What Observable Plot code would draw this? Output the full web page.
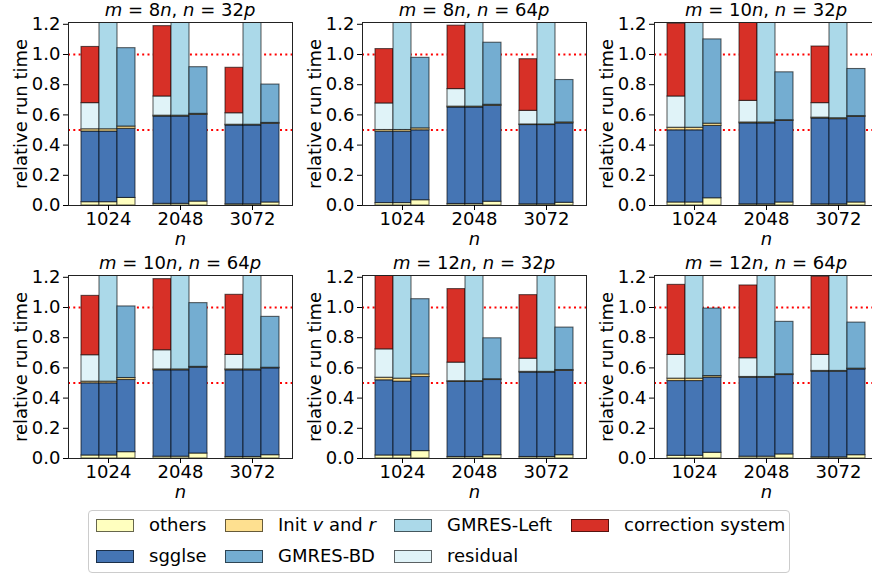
<!DOCTYPE html>
<html><head><meta charset="utf-8">
<script src="https://cdn.jsdelivr.net/npm/d3@7"></script>
<script src="https://cdn.jsdelivr.net/npm/@observablehq/plot@0.6"></script>
<style>
html,body{margin:0;padding:0;background:#fff;overflow:hidden;}
body{width:872px;height:578px;position:relative;font-family:"DejaVu Sans",sans-serif;color:#000;}
.panel{position:absolute;}
.title{position:absolute;font-size:18px;line-height:14px;white-space:nowrap;transform:translateX(-50%);}
.legend{position:absolute;left:88px;top:510px;width:702px;height:63px;border:1px solid #cccccc;border-radius:4px;box-sizing:border-box;}
.item{position:absolute;font-size:18px;line-height:18px;white-space:nowrap;}
.sw{position:absolute;width:38px;height:13px;border:1px solid rgba(0,0,0,0.6);box-sizing:border-box;}
</style>
</head><body>
<script>
// ---- data ----
const sizes = [1024, 2048, 3072];
const mFactors = ["8", "8", "10", "10", "12", "12"];
const pFactors = ["32", "64", "32", "64", "32", "64"];
const seriesNames = ["others", "sgglse", "Init v and r", "GMRES-BD", "GMRES-Left", "residual", "correction system"];
const seriesLabels = ["others", "sgglse", "Init <i>v</i> and <i>r</i>", "GMRES-BD", "GMRES-Left", "residual", "correction system"];
const seriesColors = ["#ffffbf", "#4575b4", "#fee090", "#74add1", "#abd9e9", "#e0f3f8", "#d73027"];
const yTicks = [0, 0.2, 0.4, 0.6, 0.8, 1.0, 1.2];
const refLines = [0.5, 1.0];

// left bar (correction approach), per panel [1024, 2048, 3072]
const othersL = [[.022,.011,.008],[.016,.010,.008],[.020,.008,.008],[.020,.012,.010],[.020,.010,.010],[.018,.012,.008]];
const sgglseL = [[.468,.578,.522],[.473,.639,.525],[.478,.536,.568],[.478,.572,.574],[.498,.497,.559],[.495,.523,.567]];
const initL = [[.015,.006,.005],[.011,.006,.004],[.017,.006,.006],[.011,.006,.006],[.017,.005,.005],[.016,.005,.005]];
const residual = [[.173,.127,.076],[.176,.116,.090],[.207,.143,.096],[.175,.127,.096],[.188,.123,.087],[.157,.124,.106]];
const correction = [[.372,.466,.301],[.360,.420,.342],[.482,.557,.375],[.393,.471,.398],[.517,.487,.421],[.464,.482,.518]];
// middle bar (GMRES-Left)
const othersM = [[.022,.011,.008],[.016,.010,.008],[.020,.008,.008],[.020,.012,.010],[.020,.010,.010],[.018,.012,.008]];
const sgglseM = [[.468,.578,.522],[.473,.639,.525],[.478,.536,.564],[.478,.572,.574],[.489,.497,.559],[.495,.523,.567]];
const initM = [[.015,.006,.005],[.011,.006,.004],[.017,.006,.006],[.011,.006,.006],[.020,.005,.005],[.016,.005,.005]];
const gmresLeft = [[1.10,1.00,1.05],[1.05,0.95,1.10],[1.10,1.00,1.00],[1.05,0.95,1.00],[1.10,1.05,1.00],[1.05,1.00,0.95]];
// right bar (GMRES-BD)
const othersR = [[.050,.026,.020],[.035,.025,.018],[.048,.020,.020],[.042,.033,.022],[.049,.022,.022],[.038,.027,.022]];
const sgglseR = [[.458,.574,.521],[.463,.635,.526],[.479,.540,.567],[.478,.569,.575],[.491,.498,.558],[.498,.526,.568]];
const initR = [[.015,.007,.006],[.013,.007,.006],[.015,.005,.005],[.013,.005,.004],[.017,.005,.006],[.010,.005,.005]];
const gmresBD = [[.519,.309,.254],[.467,.411,.281],[.558,.317,.312],[.474,.422,.337],[.498,.271,.281],[.447,.347,.305]];

// ---- layout ----
const panelLeft = [0, 294, 586];
const panelTop = [16, 269];
const titleTop = [2.5, 255.5];

const xDomain = [];
sizes.forEach((s, i) => {
  if (i > 0) xDomain.push("gap" + i);
  xDomain.push(s + "|L", s + "|M", s + "|R");
});
const xTicks = sizes.map(s => s + "|M");

function rowsFor(p) {
  const rows = [];
  sizes.forEach((s, g) => {
    const push = (bar, series, value) => rows.push({bar: s + "|" + bar, series, value});
    push("L", "others", othersL[p][g]);
    push("L", "sgglse", sgglseL[p][g]);
    push("L", "Init v and r", initL[p][g]);
    push("L", "residual", residual[p][g]);
    push("L", "correction system", correction[p][g]);
    push("M", "others", othersM[p][g]);
    push("M", "sgglse", sgglseM[p][g]);
    push("M", "Init v and r", initM[p][g]);
    push("M", "GMRES-Left", gmresLeft[p][g]);
    push("R", "others", othersR[p][g]);
    push("R", "sgglse", sgglseR[p][g]);
    push("R", "Init v and r", initR[p][g]);
    push("R", "GMRES-BD", gmresBD[p][g]);
  });
  return rows;
}

for (let p = 0; p < 6; p++) {
  const col = p % 3, row = Math.floor(p / 3);
  const chart = Plot.plot({
    width: 298, height: 240,
    marginLeft: 68, marginRight: 6, marginTop: 6, marginBottom: 51,
    style: {fontFamily: "DejaVu Sans", fontSize: "18px", color: "#000", background: "transparent", overflow: "visible"},
    x: {type: "band", domain: xDomain, paddingInner: 0, paddingOuter: 0.55, axis: null},
    y: {domain: [0, 1.212], axis: null},
    color: {domain: seriesNames, range: seriesColors},
    marks: [
      Plot.ruleY(refLines, {stroke: "#ff0000", strokeWidth: 2, strokeDasharray: "2,3.3"}),
      Plot.barY(rowsFor(p), {x: "bar", y: "value", fill: "series", stroke: "black", strokeOpacity: 0.6, strokeWidth: 1.1, clip: true}),
      Plot.frame({stroke: "#222", strokeWidth: 1}),
      Plot.axisY(yTicks, {tickFormat: d => d.toFixed(1), tickSize: 5, tickPadding: 3, label: "relative run time", labelArrow: "none", labelAnchor: "center", labelOffset: 54}),
      Plot.axisX(xTicks, {tickFormat: d => d.split("|")[0], tickSize: 5, tickPadding: 2, label: null}),
      Plot.text(["n"], {frameAnchor: "bottom", dy: 39, fontStyle: "italic", text: d => d})
    ]
  });
  chart.classList.add("panel");
  chart.style.left = panelLeft[col] + "px";
  chart.style.top = panelTop[row] + "px";
  document.body.appendChild(chart);

  const t = document.createElement("div");
  t.className = "title";
  t.style.left = (panelLeft[col] + 68 + 112) + "px";
  t.style.top = titleTop[row] + "px";
  t.innerHTML = `<i>m</i> = ${mFactors[p]}<i>n</i>, <i>n</i> = ${pFactors[p]}<i>p</i>`;
  document.body.appendChild(t);
}

// legend (matplotlib-style, 4 columns, column-major)
const legend = document.createElement("div");
legend.className = "legend";
const colX = [7, 136, 305, 482];
const rowY = [14.5, 45.5];
seriesNames.forEach((name, i) => {
  const c = Math.floor(i / 2), r = i % 2;
  const sw = document.createElement("div");
  sw.className = "sw";
  sw.style.left = colX[c] + "px";
  sw.style.top = (rowY[r] - 6.5) + "px";
  sw.style.background = seriesColors[i];
  legend.appendChild(sw);
  const tx = document.createElement("div");
  tx.className = "item";
  tx.style.left = (colX[c] + 53) + "px";
  tx.style.top = (rowY[r] - 10) + "px";
  tx.innerHTML = seriesLabels[i];
  legend.appendChild(tx);
});
document.body.appendChild(legend);
</script>
</body></html>
